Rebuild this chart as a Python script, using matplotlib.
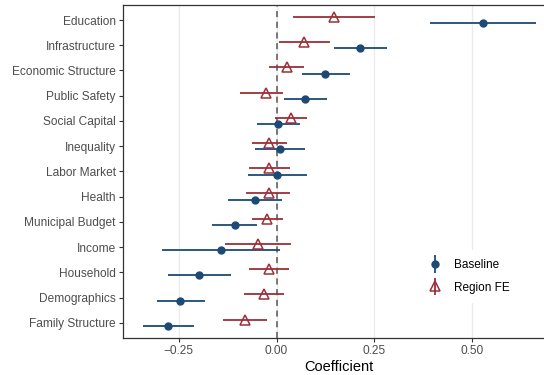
import matplotlib.pyplot as plt
import numpy as np
from matplotlib.legend_handler import HandlerErrorbar

plt.rcParams['font.family'] = ['Liberation Sans', 'DejaVu Sans']

categories = ['Education', 'Infrastructure', 'Economic Structure', 'Public Safety',
              'Social Capital', 'Inequality', 'Labor Market', 'Health',
              'Municipal Budget', 'Income', 'Household', 'Demographics',
              'Family Structure']

# baseline estimates and 95% CI
base_est = [0.526, 0.214, 0.125, 0.074, 0.004, 0.009, 0.001, -0.056, -0.107, -0.141, -0.197, -0.246, -0.277]
base_lo = [0.391, 0.147, 0.064, 0.020, -0.050, -0.054, -0.073, -0.125, -0.164, -0.292, -0.277, -0.306, -0.342]
base_hi = [0.662, 0.282, 0.188, 0.130, 0.059, 0.072, 0.078, 0.014, -0.049, 0.009, -0.117, -0.182, -0.210]

# region fixed effects
fe_est = [0.146, 0.071, 0.026, -0.026, 0.038, -0.018, -0.018, -0.020, -0.023, -0.047, -0.020, -0.032, -0.080]
fe_lo = [0.042, 0.006, -0.018, -0.092, -0.003, -0.063, -0.071, -0.077, -0.062, -0.132, -0.071, -0.083, -0.136]
fe_hi = [0.251, 0.136, 0.071, 0.016, 0.079, 0.028, 0.035, 0.035, 0.016, 0.038, 0.031, 0.020, -0.024]

blue = '#1d4a74'
red = '#9c2f38'

fig = plt.figure(figsize=(5.44, 3.75), dpi=100)
ax = fig.add_axes([0.226, 0.099, 0.795, 0.888])

n = len(categories)
y = np.arange(n, 0, -1)
dodge = 0.125

base_est = np.array(base_est)
fe_est = np.array(fe_est)
base_err = [base_est - np.array(base_lo), np.array(base_hi) - base_est]
fe_err = [fe_est - np.array(fe_lo), np.array(fe_hi) - fe_est]

ax.axvline(0, color='#555555', lw=1.1, ls=(0, (4, 3)), zorder=1)

ax.errorbar(fe_est, y + dodge, xerr=fe_err, fmt='^', color=red, ecolor=red,
            elinewidth=1.3, ms=7.5, mfc='none', mec=red, mew=1.1, zorder=3)
ax.errorbar(base_est, y - dodge, xerr=base_err, fmt='o', color=blue, ecolor=blue,
            elinewidth=1.3, ms=5, mfc=blue, mec=blue, zorder=3)

# proxies for the legend keys (vertical pointrange), not visible in the plot
h1 = ax.errorbar([np.nan], [np.nan], yerr=[0.1], fmt='o', color=blue, elinewidth=1.3,
                 ms=5, label='Baseline')
h2 = ax.errorbar([np.nan], [np.nan], yerr=[0.1], fmt='^', color=red, elinewidth=1.3,
                 ms=7.5, mfc='none', mec=red, mew=1.1, label='Region FE')

hm = {h1: HandlerErrorbar(yerr_size=0.75), h2: HandlerErrorbar(yerr_size=0.75)}
leg = ax.legend(handles=[h1, h2], handler_map=hm, loc='center left',
                bbox_to_anchor=(0.670, 0.185),
                frameon=True, fancybox=False, edgecolor='none', framealpha=1,
                fontsize=8.5, handlelength=1.2, handletextpad=1.0, labelspacing=0.9,
                borderpad=0.8)

ax.set_yticks(y)
ax.set_yticklabels(categories)
ax.set_ylim(0.4, n + 0.6)
ax.set_xlim(-0.392, 0.712)
ax.set_xticks([-0.25, 0, 0.25, 0.5])
ax.set_xticklabels(['\u22120.25', '0.00', '0.25', '0.50'])
ax.grid(axis='x', color='#ebebeb', lw=1.0, zorder=0)
ax.set_axisbelow(True)

ax.tick_params(labelsize=8.6, labelcolor='#4d4d4d', color='#333333', length=3, width=0.8,
               pad=2.2)
for s in ax.spines.values():
    s.set_color('#333333')
    s.set_linewidth(0.9)

ax.set_xlabel('Coefficient', fontsize=10.5, labelpad=2)

fig.savefig('out.png', dpi=100)
